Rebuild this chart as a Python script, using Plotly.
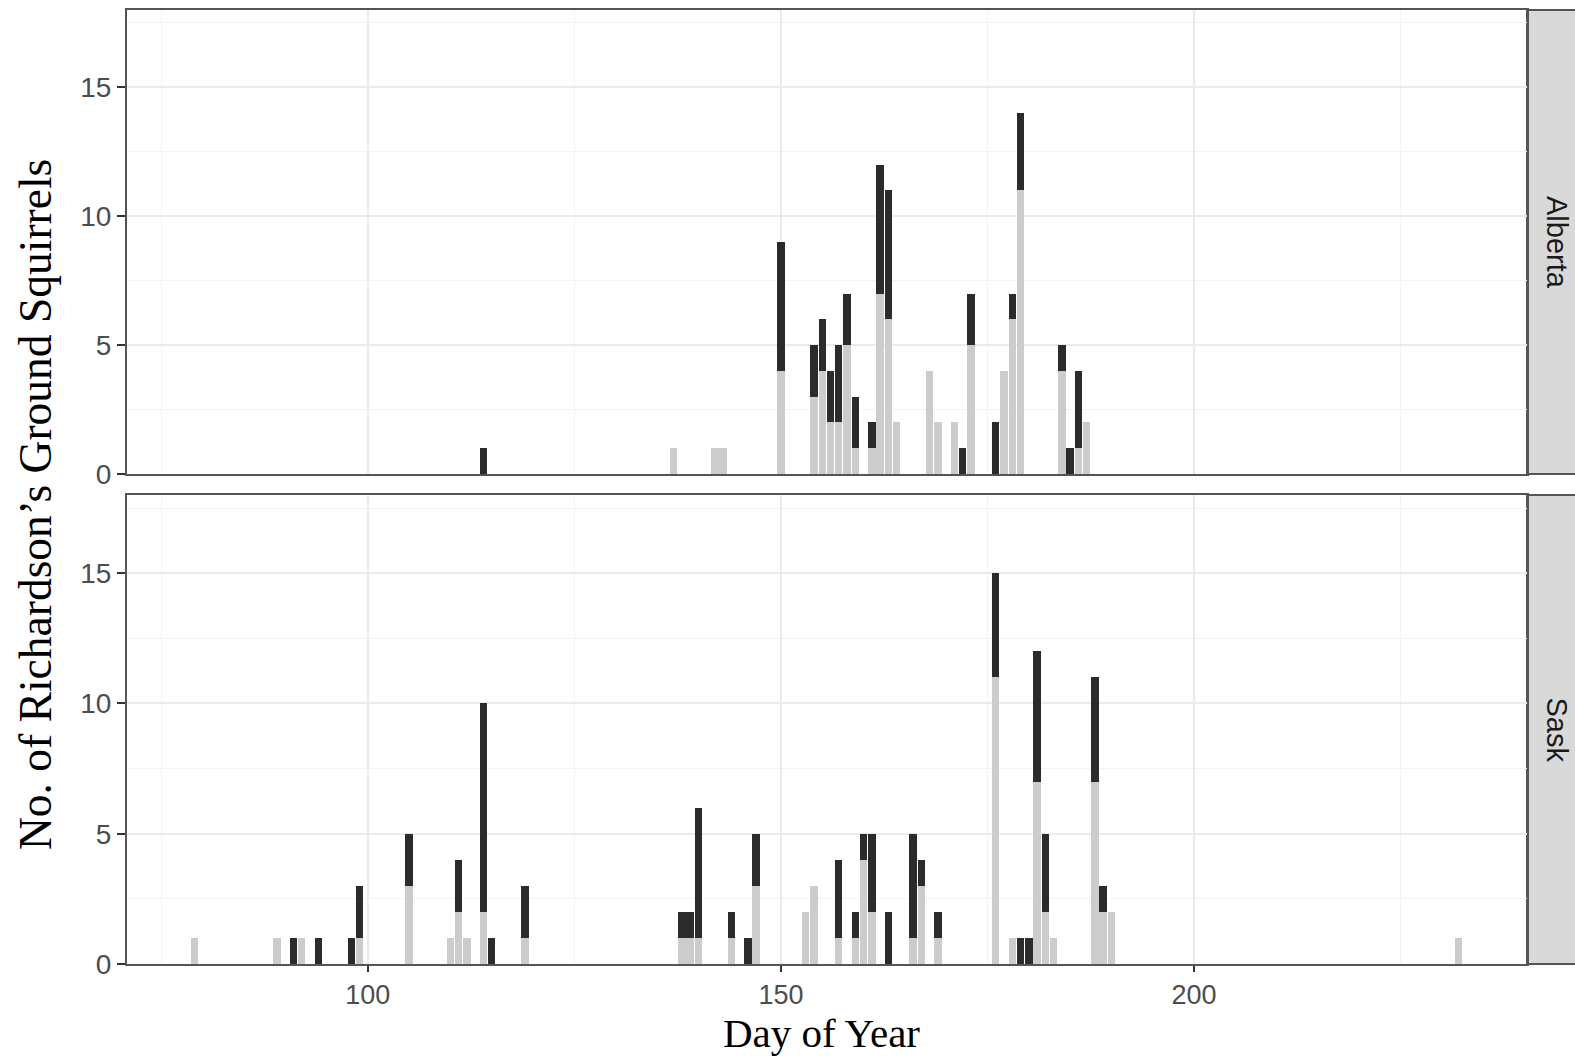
import plotly.graph_objects as go

# ---- data (day of year, counts) ----
days_alberta = [114, 137, 142, 143, 150, 154, 155, 156, 157, 158, 159, 161, 162, 163, 164,
                168, 169, 171, 172, 173, 176, 177, 178, 179, 184, 185, 186, 187]
light_alberta = [0, 1, 1, 1, 4, 3, 4, 2, 2, 5, 1, 1, 7, 6, 2,
                 4, 2, 2, 0, 5, 0, 4, 6, 11, 4, 0, 1, 2]
dark_alberta = [1, 0, 0, 0, 5, 2, 2, 2, 3, 2, 2, 1, 5, 5, 0,
                0, 0, 0, 1, 2, 2, 0, 1, 3, 1, 1, 3, 0]

days_sask = [79, 89, 91, 92, 94, 98, 99, 105, 110, 111, 112, 114, 115, 119,
             138, 139, 140, 144, 146, 147, 153, 154, 157, 159, 160, 161, 163, 166, 167, 169,
             176, 178, 179, 180, 181, 182, 183, 188, 189, 190, 232]
light_sask = [1, 1, 0, 1, 0, 0, 1, 3, 1, 2, 1, 2, 0, 1,
              1, 1, 1, 1, 0, 3, 2, 3, 1, 1, 4, 2, 0, 1, 3, 1,
              11, 1, 0, 0, 7, 2, 1, 7, 2, 2, 1]
dark_sask = [0, 0, 1, 0, 1, 1, 2, 2, 0, 2, 0, 8, 1, 2,
             1, 1, 5, 1, 1, 2, 0, 0, 3, 1, 1, 3, 2, 4, 1, 1,
             4, 0, 1, 1, 5, 3, 0, 4, 1, 0, 0]

panel_labels = ["Alberta", "Sask"]
x_ticks = [100, 150, 200]
y_ticks = [0, 5, 10, 15]

LIGHT = "#CCCCCC"
DARK = "#2B2B2B"
W, H = 1575, 1060
ML, MR, MT, MB = 127, 48, 10, 96

fig = go.Figure()

# bottom panel (Sask) -> x/y ; top panel (Alberta) -> x2/y2
fig.add_trace(go.Bar(x=days_sask, y=light_sask, width=0.9, marker=dict(color=LIGHT, line=dict(width=0)),
                     xaxis="x", yaxis="y", showlegend=False))
fig.add_trace(go.Bar(x=days_sask, y=dark_sask, width=0.9, marker=dict(color=DARK, line=dict(width=0)),
                     xaxis="x", yaxis="y", showlegend=False))
fig.add_trace(go.Bar(x=days_alberta, y=light_alberta, width=0.9, marker=dict(color=LIGHT, line=dict(width=0)),
                     xaxis="x2", yaxis="y2", showlegend=False))
fig.add_trace(go.Bar(x=days_alberta, y=dark_alberta, width=0.9, marker=dict(color=DARK, line=dict(width=0)),
                     xaxis="x2", yaxis="y2", showlegend=False))

plot_h = H - MT - MB
plot_w = W - ML - MR
top_dom = [(H - MB - 474) / plot_h, 1.0]
bot_dom = [0.0, (H - MB - 495) / plot_h]

xr = [70.85, 240.3]
yr = [0, 18]
tickfont = dict(family="Liberation Sans, Arial, sans-serif", size=27, color="#4D4D4D")
grid_major = "#EBEBEB"
grid_minor = "#F3F3F3"
border = "#555555"

common_x = dict(range=xr, tick0=0, dtick=50, showgrid=True, gridcolor=grid_major, gridwidth=2.2,
                minor=dict(dtick=25, tick0=0, showgrid=True, gridcolor=grid_minor, gridwidth=1.3),
                zeroline=False, showline=True, linecolor=border, linewidth=2, mirror=True,
                fixedrange=True)
common_y = dict(range=yr, tickmode="array", tickvals=y_ticks, showgrid=True, gridcolor=grid_major,
                gridwidth=2.2,
                minor=dict(dtick=2.5, tick0=0, showgrid=True, gridcolor=grid_minor, gridwidth=1.3),
                zeroline=False, showline=True, linecolor=border, linewidth=2, mirror=True,
                ticks="outside", ticklen=8, tickwidth=2, tickcolor="#333333",
                tickfont=dict(tickfont, size=28), fixedrange=True)

fig.update_layout(
    width=W, height=H,
    margin=dict(l=ML, r=MR, t=MT, b=MB, autoexpand=False),
    paper_bgcolor="white", plot_bgcolor="white",
    barmode="stack", bargap=0,
    hovermode=False,
    xaxis=dict(common_x, domain=[0, 1], anchor="y", tickmode="array", tickvals=x_ticks,
               ticks="outside", ticklen=6, tickwidth=2, tickcolor="#333333", tickfont=tickfont),
    yaxis=dict(common_y, domain=bot_dom, anchor="x"),
    xaxis2=dict(common_x, domain=[0, 1], anchor="y2", showticklabels=False, ticks="",
                matches="x"),
    yaxis2=dict(common_y, domain=top_dom, anchor="x2"),
)

# strips
shapes = []
annotations = []
for label, dom in zip(panel_labels, [top_dom, bot_dom]):
    shapes.append(dict(type="rect", xref="paper", yref="paper", x0=1.0, x1=1.06, y0=dom[0], y1=dom[1],
                       fillcolor="#D9D9D9", line=dict(color=border, width=2), layer="below"))
    annotations.append(dict(text=label, xref="paper", yref="paper", x=(1557 - ML) / plot_w,
                            y=(dom[0] + dom[1]) / 2, showarrow=False, textangle=90,
                            xanchor="center", yanchor="middle",
                            font=dict(family="Liberation Sans, Arial, sans-serif", size=29,
                                      color="#1A1A1A")))

# axis titles
annotations.append(dict(text="Day of Year", xref="paper", yref="paper",
                        x=(821 - ML) / plot_w, y=(H - MB - 1033) / plot_h,
                        showarrow=False, xanchor="center", yanchor="middle",
                        font=dict(family="Liberation Serif, Times New Roman, serif", size=41,
                                  color="black")))
annotations.append(dict(text="No. of Richardson\u2019s Ground Squirrels", xref="paper", yref="paper",
                        x=(35 - ML) / plot_w, y=(H - MB - 505) / plot_h,
                        showarrow=False, textangle=-90, xanchor="center", yanchor="middle",
                        font=dict(family="Liberation Serif, Times New Roman, serif", size=45.5,
                                  color="black")))

fig.update_layout(shapes=shapes, annotations=annotations)

fig.write_html("out.html", config={"displayModeBar": False},
               post_script="document.body.style.margin='0';document.body.style.overflow='hidden';")
